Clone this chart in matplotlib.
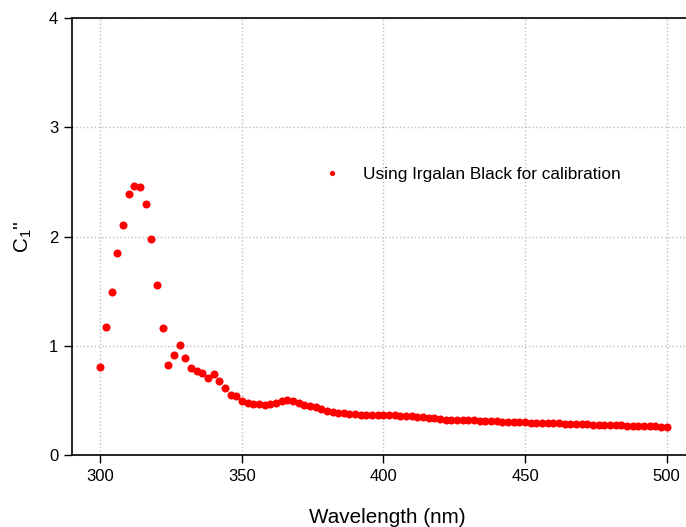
#!/usr/bin/env python3
"""
C1'' vs wavelength, calibrated with Irgalan Black.
"""
import numpy as np
import matplotlib

matplotlib.use("Agg")
import matplotlib.pyplot as plt

plt.rcParams["font.family"] = ["Liberation Sans", "DejaVu Sans"]
plt.rcParams["mathtext.default"] = "regular"

# wavelength grid, one reading every 2 nm
wavelength = np.arange(300, 501, 2)

c1pp = [
    0.81, 1.17, 1.49, 1.85, 2.11, 2.39, 2.46, 2.45, 2.30, 1.98,
    1.56, 1.16, 0.82, 0.915, 1.01, 0.89, 0.80, 0.77, 0.75, 0.705,
    0.74, 0.68, 0.61, 0.55, 0.54, 0.49, 0.48, 0.47, 0.47, 0.455,
    0.467, 0.48, 0.497, 0.50, 0.497, 0.48, 0.46, 0.445, 0.437, 0.424,
    0.405, 0.396, 0.384, 0.384, 0.378, 0.375, 0.369, 0.366, 0.37, 0.37,
    0.366, 0.366, 0.363, 0.36, 0.36, 0.357, 0.35, 0.345, 0.339, 0.335,
    0.327, 0.322, 0.320, 0.319, 0.318, 0.317, 0.316, 0.315, 0.313, 0.311,
    0.309, 0.306, 0.304, 0.302, 0.300, 0.298, 0.297, 0.295, 0.294, 0.292,
    0.291, 0.289, 0.287, 0.286, 0.284, 0.282, 0.280, 0.279, 0.277, 0.276,
    0.275, 0.273, 0.271, 0.270, 0.268, 0.266, 0.265, 0.263, 0.261, 0.259,
    0.256,
]

xticks = [300, 350, 400, 450, 500]
yticks = [0, 1, 2, 3, 4]

fig = plt.figure(figsize=(6.86, 5.27), dpi=100)
# right spine sits just past the figure edge, as in the original
ax = fig.add_axes([0.105, 0.1366, 0.908, 0.8292])

ax.plot(wavelength, c1pp, "o", color="#ff0000", markersize=5.8,
        markeredgewidth=0, label="Using Irgalan Black for calibration")

ax.set_xlim(290, 510)
ax.set_ylim(0, 4)
ax.set_xticks(xticks)
ax.set_yticks(yticks)
ax.tick_params(direction="out", length=6, width=1, labelsize=12, pad=4)
ax.grid(True, linestyle=":", color="#bdbdbd", linewidth=1)
ax.set_axisbelow(True)
for s in ax.spines.values():
    s.set_linewidth(1.2)

ax.set_xlabel("Wavelength (nm)", fontsize=14.9)
ax.xaxis.set_label_coords(0.506, -0.122)
ax.set_ylabel("C$_1$''", fontsize=14.9)
ax.yaxis.set_label_coords(-0.061, 0.5)

ax.legend(loc="center left", bbox_to_anchor=(0.379, 0.643), borderaxespad=0,
          frameon=False, fontsize=12.4, markerscale=0.65)

fig.savefig("out.png", dpi=100)
